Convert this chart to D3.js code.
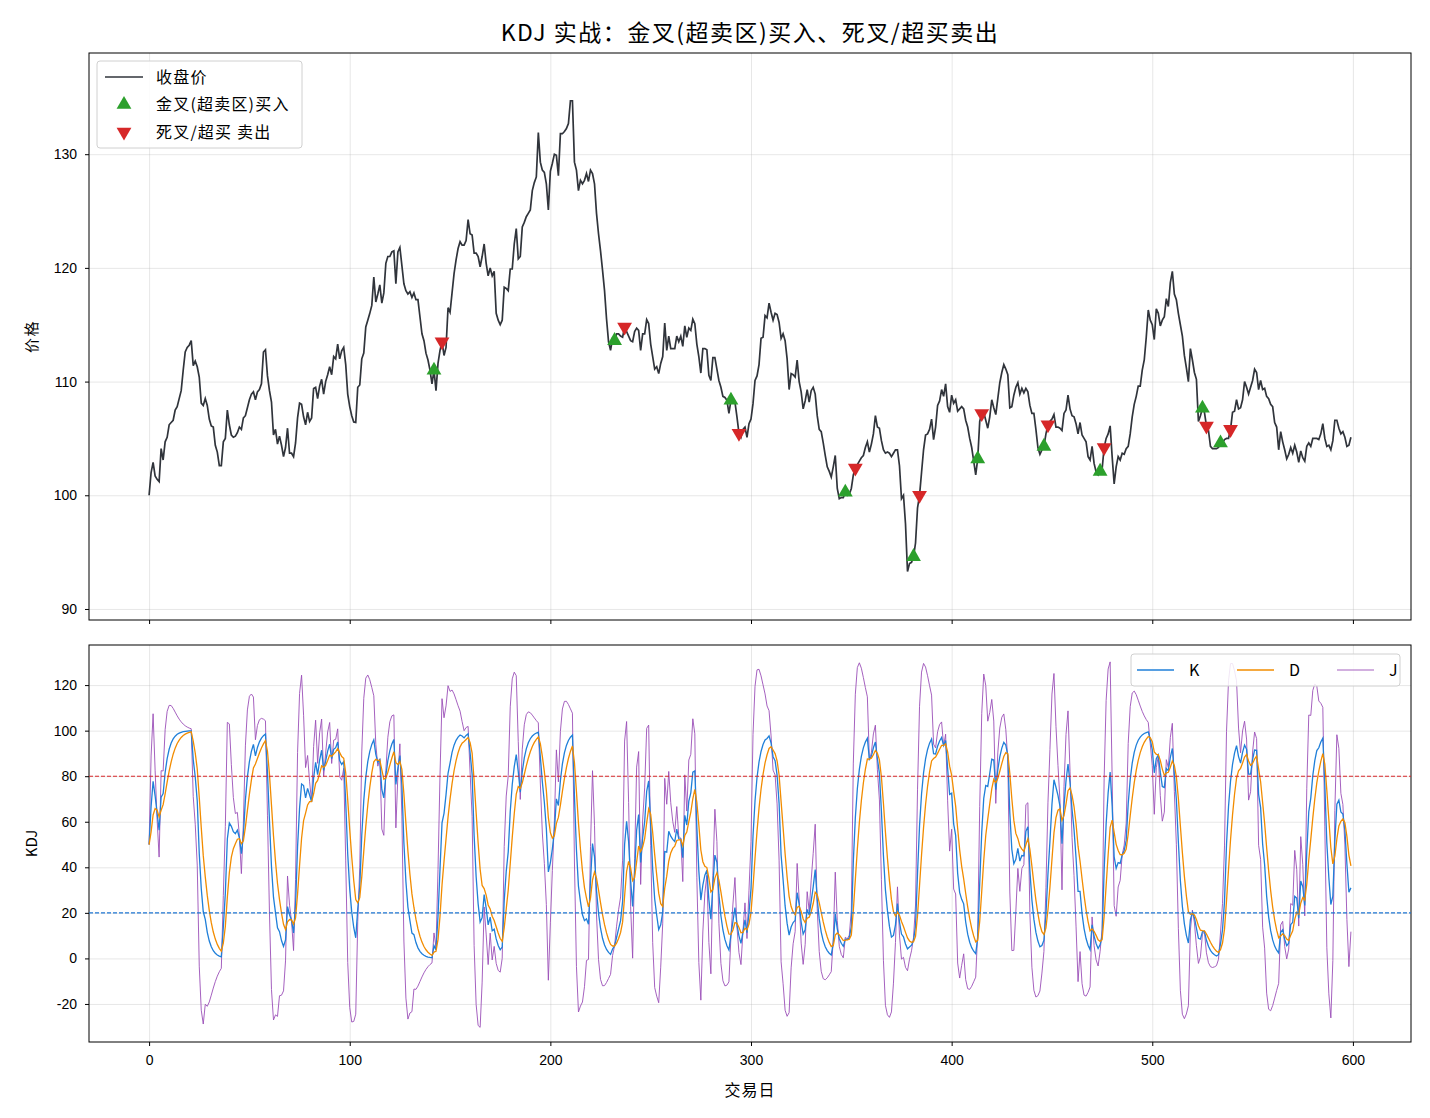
<!DOCTYPE html>
<html>
<head>
<meta charset="utf-8">
<script src="https://cdn.jsdelivr.net/npm/d3@7"></script>
<style>
  body { margin: 0; background: #fff; }
  svg { font-family: "Noto Sans CJK SC", "Noto Sans", sans-serif; }
  .tick text { font-size: 14px; fill: #000; }
  .grid line { stroke: #b0b0b0; stroke-opacity: 0.3; }
  .grid path { display: none; }
</style>
</head>
<body>
<svg width="1430" height="1118"></svg>
<script>
// closing price, one value per trading day
const close = [
  100.0, 102.0, 102.9, 101.7, 101.4, 101.2, 104.1, 103.1, 104.7, 105.1,
  106.2, 106.4, 106.6, 107.5, 107.8, 108.5, 109.2, 111.0, 112.6, 113.0,
  113.2, 113.6, 111.4, 111.8, 111.3, 110.4, 108.1, 107.9, 108.5, 107.9,
  106.7, 106.1, 106.0, 104.4, 103.8, 102.6, 102.6, 104.7, 105.0, 107.5,
  106.2, 105.3, 105.1, 105.2, 105.5, 106.0, 105.8, 106.8, 107.0, 107.7,
  108.4, 108.9, 109.1, 108.4, 109.1, 109.3, 109.8, 112.6, 112.8, 110.5,
  109.2, 108.2, 105.3, 105.8, 104.5, 105.2, 104.4, 103.4, 104.2, 105.9,
  103.7, 103.7, 103.4, 104.6, 106.8, 108.1, 108.0, 106.9, 106.2, 107.3,
  106.5, 106.8, 109.4, 109.5, 108.5, 109.6, 110.2, 108.9, 110.0, 110.6,
  111.3, 110.6, 112.2, 112.0, 113.3, 112.0, 112.7, 113.0, 111.5, 108.9,
  107.8, 107.0, 106.45, 106.4, 109.5, 109.7, 112.0, 112.5, 114.8, 115.4,
  116.0, 116.7, 119.2, 117.0, 117.7, 118.5, 116.9, 117.8, 120.4, 121.0,
  121.0, 121.4, 121.5, 118.6, 121.4, 121.8, 120.2, 118.6, 118.0, 117.7,
  117.9, 117.4, 117.8, 117.2, 117.2, 115.7, 114.2, 113.6, 112.5, 111.9,
  111.0, 109.8, 111.0, 109.2, 111.6, 112.75, 113.5, 112.3, 113.0, 116.5,
  116.1, 117.8, 119.5, 120.7, 121.7, 122.3, 122.0, 122.0, 122.4, 124.25,
  123.0, 122.9, 121.3, 121.3, 121.0, 120.1, 121.0, 122.1, 120.4, 119.3,
  120.0, 119.3, 119.7, 116.0, 115.4, 115.0, 115.4, 118.3, 118.2, 118.0,
  119.9, 119.9, 122.1, 123.45, 120.8, 121.0, 123.6, 124.0, 124.5, 124.8,
  125.1, 126.8, 127.5, 128.0, 131.9, 129.3, 128.6, 128.4, 127.4, 125.1,
  128.5, 129.2, 130.0, 129.9, 128.1, 131.8, 131.8, 132.0, 132.25, 132.7,
  134.7, 134.7, 129.3, 128.6, 126.8, 127.7, 127.4, 127.7, 128.3, 127.6,
  128.6, 128.3, 127.4, 124.8, 123.0, 121.5, 119.8, 118.0, 115.5, 113.5,
  112.75, 113.8, 113.6, 114.2, 114.2, 114.0, 113.9, 114.8, 114.4, 114.0,
  113.6, 113.5, 114.4, 114.7, 114.5, 112.75, 114.2, 114.2, 115.45, 115.1,
  113.3, 112.2, 111.1, 111.3, 110.7, 111.6, 112.2, 115.15, 112.75, 114.0,
  112.9, 112.9, 112.9, 114.0, 113.5, 114.0, 113.1, 114.9, 113.9, 114.7,
  114.5, 115.5, 115.1, 113.3, 112.2, 110.75, 112.9, 112.9, 112.8, 110.55,
  110.1, 112.1, 112.1, 111.1, 110.1, 109.5, 108.7, 108.6, 108.35, 107.2,
  108.35, 108.3, 108.2, 106.9, 105.45, 105.1, 105.8, 106.0, 105.1, 106.3,
  106.7, 108.06, 110.1, 110.5, 111.5, 113.8, 113.9, 115.8, 115.6, 116.9,
  116.1, 115.4, 116.0, 115.9, 115.2, 113.8, 114.2, 113.6, 112.0, 109.3,
  110.7, 110.6, 110.4, 111.9, 110.0, 109.1, 107.6, 108.3, 109.3, 108.2,
  109.2, 109.5, 108.9, 107.0, 105.8, 105.6, 104.6, 103.5, 102.5, 102.1,
  101.6, 102.5, 103.5, 100.6, 99.7, 99.8, 99.8, 100.26, 100.0, 100.1,
  100.6, 101.8, 102.4, 102.7, 103.0, 103.3, 103.5, 104.2, 104.7, 103.8,
  104.5, 105.4, 107.0, 106.0, 105.9, 104.8, 104.0, 103.7, 103.8, 103.7,
  103.4, 103.7, 104.0, 104.0, 102.6, 99.7, 100.0, 97.5, 93.3, 94.0,
  94.1, 94.6, 95.8, 98.9, 100.0, 102.0, 104.0, 105.3, 105.4, 105.8,
  106.7, 104.9, 106.0, 107.9, 108.3, 109.3, 108.7, 109.8, 107.8, 107.3,
  108.8, 108.1, 108.4, 107.4, 107.6, 107.8, 107.6, 106.6, 106.0, 105.0,
  104.2, 103.0, 101.8, 103.2, 106.5, 107.2, 107.3, 106.6, 105.9, 106.9,
  108.4, 107.7, 107.1, 108.5, 109.9, 110.8, 111.5, 111.1, 110.6, 107.7,
  107.8, 108.8, 109.5, 109.9, 108.9, 109.4, 109.0, 109.4, 109.1, 107.9,
  107.2, 107.2, 105.8, 104.2, 103.6, 104.0, 104.3, 105.4, 106.2, 106.5,
  106.7, 107.1, 106.0, 106.0, 105.9, 105.7, 107.2, 107.5, 108.8, 107.6,
  107.0, 106.9, 106.3, 105.4, 106.4, 105.3, 105.0, 104.7, 103.4, 103.1,
  104.3, 102.8, 102.05, 101.8, 102.1, 102.3, 104.2, 105.0, 105.4, 106.1,
  103.4, 101.0, 102.5, 103.4, 103.1, 103.7, 103.6, 104.1, 104.3, 105.4,
  106.9, 108.0, 108.7, 109.6, 109.6, 111.0, 111.9, 113.9, 116.3, 115.4,
  115.0, 113.7, 116.4, 116.0, 114.9, 115.4, 115.7, 117.3, 116.6, 118.7,
  119.7, 117.7, 117.2, 116.0, 115.0, 114.0, 112.3, 111.2, 110.0, 112.9,
  111.9, 110.8, 110.2, 106.5, 107.0, 107.65, 107.3, 106.1, 105.7, 104.3,
  104.1, 104.1, 104.1, 104.2, 104.6, 104.6, 104.9, 105.0, 105.0, 105.8,
  107.3, 107.4, 108.4, 107.6, 107.7, 108.4, 110.0, 109.5, 108.9, 109.5,
  110.1, 111.1, 110.8, 109.3, 110.1, 109.3, 109.4, 108.7, 108.5, 108.0,
  107.8, 106.4, 106.0, 104.0, 105.6, 104.7, 104.0, 103.2, 103.6, 104.2,
  103.7, 104.4, 103.8, 102.9, 103.9, 103.3, 103.0, 104.3, 104.6, 104.3,
  105.0, 105.0, 105.0, 104.9, 105.4, 106.3, 105.0, 104.3, 104.4, 104.0,
  104.8, 106.6, 106.6, 105.9, 105.4, 105.6, 105.1, 104.3, 104.4, 105.1
];

// signal days
const buyDays = [142, 232, 290, 347, 381, 413, 446, 474, 525, 534];
const sellDays = [146, 237, 294, 352, 384, 415, 448, 476, 527, 539];

const xTicks = [0, 100, 200, 300, 400, 500, 600];
const priceTicks = [90, 100, 110, 120, 130];
const kdjTicks = [-20, 0, 20, 40, 60, 80, 100, 120];
const kdjLevels = [80, 20];

// KDJ (n = 9, smoothing 1/3)
const n = 9;
const K = [], D = [], J = [];
close.forEach((c, i) => {
  const win = close.slice(Math.max(0, i - n + 1), i + 1);
  const lo = d3.min(win), hi = d3.max(win);
  const rsv = hi === lo ? 50 : ((c - lo) / (hi - lo)) * 100;
  const kPrev = i === 0 ? 50 : K[i - 1];
  const dPrev = i === 0 ? 50 : D[i - 1];
  K.push((2 / 3) * kPrev + rsv / 3);
  D.push((2 / 3) * dPrev + K[i] / 3);
  J.push(3 * K[i] - 2 * D[i]);
});

const svg = d3.select("svg");
const left = 89, width = 1322;
const top1 = 53, h1 = 567;
const top2 = 645, h2 = 397;

const x = d3.scaleLinear().domain([-29.95, 628.95]).range([left, left + width]);
const yP = d3.scaleLinear().domain([89.03, 138.9]).range([top1 + h1, top1]);
const yK = d3.scaleLinear().domain([-36.7, 137.6]).range([top2 + h2, top2]);

svg.append("defs").selectAll("clipPath")
  .data([["c1", top1, h1], ["c2", top2, h2]])
  .join("clipPath").attr("id", (d) => d[0])
  .append("rect").attr("x", left).attr("y", (d) => d[1])
  .attr("width", width).attr("height", (d) => d[2]);

const drawFrame = (y, top, h, ticks, showX) => {
  // grid
  svg.append("g").attr("class", "grid")
    .attr("transform", `translate(0, ${top + h})`)
    .call(d3.axisBottom(x).tickValues(xTicks).tickSize(-h).tickFormat(""));
  svg.append("g").attr("class", "grid")
    .attr("transform", `translate(${left}, 0)`)
    .call(d3.axisLeft(y).tickValues(ticks).tickSize(-width).tickFormat(""));

  const xa = svg.append("g")
    .attr("transform", `translate(0, ${top + h})`)
    .call(d3.axisBottom(x).tickValues(xTicks).tickSizeOuter(0).tickSize(4)
      .tickPadding(9).tickFormat(showX ? d3.format("d") : ""));
  xa.select(".domain").remove();

  const ya = svg.append("g")
    .attr("transform", `translate(${left}, 0)`)
    .call(d3.axisLeft(y).tickValues(ticks).tickSize(4).tickPadding(8)
      .tickFormat((d) => (d < 0 ? "-" + Math.abs(d) : d)));
  ya.select(".domain").remove();

  svg.append("rect").attr("x", left).attr("y", top)
    .attr("width", width).attr("height", h)
    .attr("fill", "none").attr("stroke", "#000").attr("stroke-width", 1);
};

drawFrame(yP, top1, h1, priceTicks, false);
drawFrame(yK, top2, h2, kdjTicks, true);

// price panel
const g1 = svg.append("g").attr("clip-path", "url(#c1)");
g1.append("path")
  .datum(close)
  .attr("fill", "none")
  .attr("stroke", "#30343b")
  .attr("stroke-width", 1.7)
  .attr("d", d3.line().x((d, i) => x(i)).y((d) => yP(d)));

const tri = d3.symbol().type(d3.symbolTriangle).size(95);
g1.selectAll(".buy").data(buyDays).join("path")
  .attr("class", "buy")
  .attr("d", tri)
  .attr("fill", "#2ca02c")
  .attr("transform", (d) => `translate(${x(d)}, ${yP(close[d])})`);
g1.selectAll(".sell").data(sellDays).join("path")
  .attr("class", "sell")
  .attr("d", tri)
  .attr("fill", "#d62728")
  .attr("transform", (d) => `translate(${x(d)}, ${yP(close[d])}) rotate(180)`);

// KDJ panel
const g2 = svg.append("g").attr("clip-path", "url(#c2)");
const kdjLine = (arr) => d3.line().x((d, i) => x(i)).y((d) => yK(d))(arr);
g2.append("path").attr("d", kdjLine(J)).attr("fill", "none")
  .attr("stroke", "#9b4fb8").attr("stroke-width", 0.9);
g2.append("path").attr("d", kdjLine(K)).attr("fill", "none")
  .attr("stroke", "#1f7fd9").attr("stroke-width", 1.3);
g2.append("path").attr("d", kdjLine(D)).attr("fill", "none")
  .attr("stroke", "#f28c00").attr("stroke-width", 1.3);

g2.selectAll(".level").data(kdjLevels).join("line")
  .attr("x1", left).attr("x2", left + width)
  .attr("y1", (d) => yK(d)).attr("y2", (d) => yK(d))
  .attr("stroke", (d) => (d === 80 ? "#d62728" : "#1f77d4"))
  .attr("stroke-width", 1.1)
  .attr("stroke-dasharray", "4,2");

// legends
const leg1 = svg.append("g").attr("transform", "translate(97, 61)");
leg1.append("rect").attr("width", 205).attr("height", 87).attr("rx", 3)
  .attr("fill", "#fff").attr("fill-opacity", 0.85)
  .attr("stroke", "#d0d0d0");
const leg1Items = ["收盘价", "金叉(超卖区)买入", "死叉/超买 卖出"];
leg1Items.forEach((t, i) => {
  const cy = 16 + i * 27.5;
  if (i === 0) {
    leg1.append("line").attr("x1", 8).attr("x2", 46).attr("y1", cy).attr("y2", cy)
      .attr("stroke", "#30343b").attr("stroke-width", 1.7);
  } else {
    leg1.append("path").attr("d", tri)
      .attr("fill", i === 1 ? "#2ca02c" : "#d62728")
      .attr("transform", `translate(27, ${cy}) ${i === 2 ? "rotate(180)" : ""}`);
  }
  leg1.append("text").attr("x", 59).attr("y", cy + 5.5)
    .attr("font-size", 16).attr("letter-spacing", 1.2).text(t);
});

const leg2 = svg.append("g").attr("transform", "translate(1131, 654)");
leg2.append("rect").attr("width", 269).attr("height", 32).attr("rx", 3)
  .attr("fill", "#fff").attr("fill-opacity", 0.85)
  .attr("stroke", "#d0d0d0");
const kdjNames = [["K", "#1f7fd9", 1.3], ["D", "#f28c00", 1.3], ["J", "#9b4fb8", 0.9]];
kdjNames.forEach((d, i) => {
  const x0 = 6 + i * 100;
  leg2.append("line").attr("x1", x0).attr("x2", x0 + 37).attr("y1", 16).attr("y2", 16)
    .attr("stroke", d[1]).attr("stroke-width", d[2]);
  leg2.append("text").attr("x", x0 + 52).attr("y", 21.5)
    .attr("font-size", 16).text(d[0]);
});

// labels
svg.append("text").attr("x", 750).attr("y", 41).attr("text-anchor", "middle")
  .attr("font-size", 23).attr("letter-spacing", 1.5)
  .text("KDJ 实战：金叉(超卖区)买入、死叉/超买卖出");
svg.append("text").attr("transform", `translate(37, ${top1 + h1 / 2}) rotate(-90)`)
  .attr("text-anchor", "middle").attr("font-size", 15).attr("letter-spacing", 1.5).text("价格");
svg.append("text").attr("transform", `translate(37, ${top2 + h2 / 2}) rotate(-90)`)
  .attr("text-anchor", "middle").attr("font-size", 15).text("KDJ");
svg.append("text").attr("x", left + width / 2).attr("y", 1096).attr("text-anchor", "middle")
  .attr("font-size", 16).attr("letter-spacing", 1).text("交易日");
</script>
</body>
</html>
